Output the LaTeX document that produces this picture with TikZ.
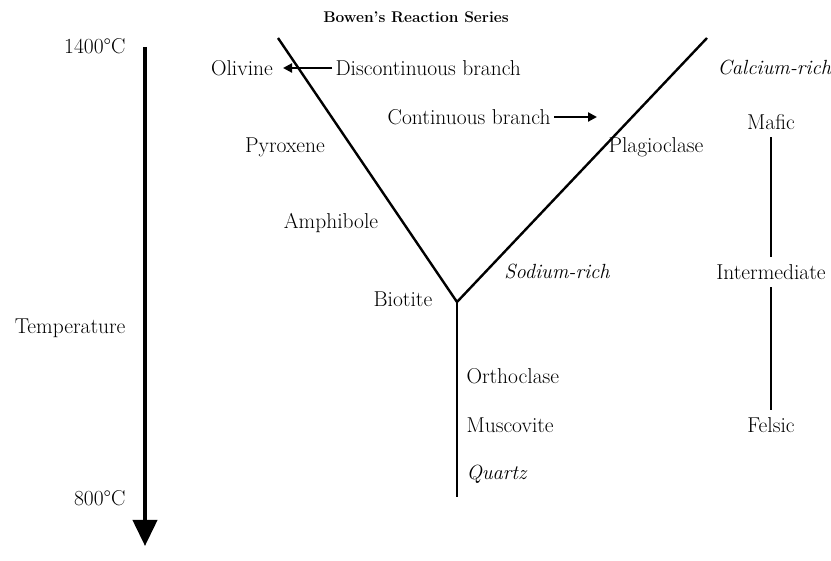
\documentclass[tikz,border=0pt]{standalone}
\usetikzlibrary{arrows.meta}
\tikzset{
  lbl/.style={font=\fontsize{21.5}{25}\selectfont},
  ilbl/.style={font=\fontsize{20.5}{24}\selectfont\itshape},
  branch/.style={line width=2.4pt},
  pointer/.style={line width=2.2pt,-{Triangle[width=9pt,length=9pt]}}
}
\begin{document}
\begin{tikzpicture}[x=1pt,y=-1pt]
\useasboundingbox (0,0) rectangle (831,561);
\node[font=\fontsize{15.5}{18}\selectfont\bfseries] (title) at (416,17) {Bowen's Reaction Series};

% temperature scale
\coordinate (thot) at (145,47);
\coordinate (tcold) at (145,546);
\draw[line width=4pt,-{Triangle[width=24pt,length=26pt]}] (thot) -- (tcold);
\node[lbl,left] (t1400) at (129,46) {1400\textdegree C};
\node[lbl,left] (ttemp) at (129,328) {Temperature};
\node[lbl,left] (t800) at (129,498) {800\textdegree C};

% the Y of the series
\coordinate (ltop) at (278,38);
\coordinate (rtop) at (707,38);
\coordinate (fork) at (457,302);
\coordinate (stem) at (457,497);
\draw[branch] (ltop) -- (fork) -- (rtop);
\draw[branch] (fork) -- (stem);

% discontinuous branch
\node[lbl] (olivine) at (242,68) {Olivine};
\node[lbl] (pyroxene) at (285,147) {Pyroxene};
\node[lbl] (amphibole) at (331,223) {Amphibole};
\node[lbl] (biotite) at (403,299) {Biotite};
\node[lbl,right] (disc) at (332,68) {Discontinuous branch};
\coordinate (dtip) at (283,68);
\draw[pointer] (disc.west) -- (dtip);

% continuous branch
\node[ilbl,right] (calcium) at (714,68) {Calcium-rich};
\node[lbl] (plagio) at (656,147) {Plagioclase};
\node[ilbl] (sodium) at (557,272) {Sodium-rich};
\node[lbl,left] (cont) at (554,117) {Continuous branch};
\coordinate (ctip) at (597,117);
\draw[pointer] (cont.east) -- (ctip);

% below the fork
\node[lbl,right] (ortho) at (463,376) {Orthoclase};
\node[lbl,right] (musco) at (463,425) {Muscovite};
\node[ilbl,right] (quartz) at (463,474) {Quartz};

% composition
\node[lbl] (mafic) at (771,122) {Mafic};
\node[lbl] (inter) at (771,272) {Intermediate};
\node[lbl] (felsic) at (771,425) {Felsic};
\draw[branch] ([yshift=-4pt]mafic.south) -- ([yshift=4pt]inter.north);
\draw[branch] ([yshift=-4pt]inter.south) -- ([yshift=4pt]felsic.north);
\end{tikzpicture}
\end{document}
